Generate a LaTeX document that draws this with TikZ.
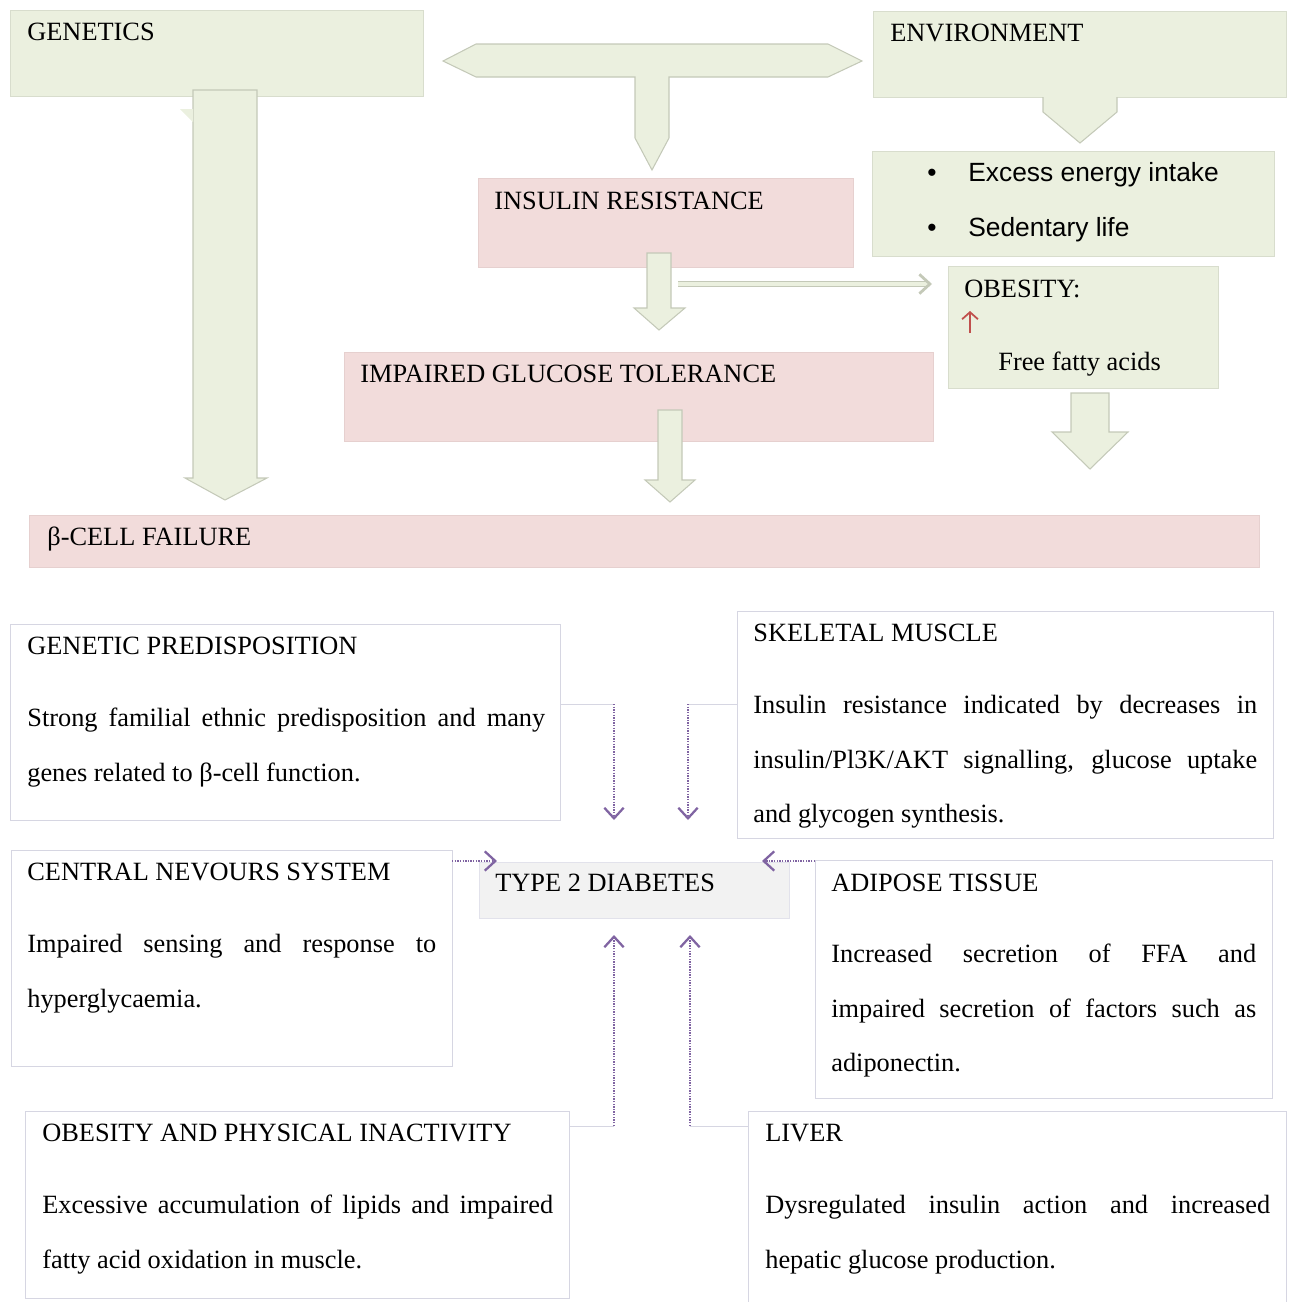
\documentclass[tikz,border=0pt]{standalone}
\usepackage{fontspec}
\setmainfont{Liberation Serif}
\newfontfamily\listfont{Liberation Sans}
\usepackage{tikz}
\usetikzlibrary{positioning,fit,arrows.meta}

\definecolor{leaf}{RGB}{235,240,223}
\definecolor{leafline}{RGB}{196,201,184}
\definecolor{rose}{RGB}{242,220,219}
\definecolor{roseline}{RGB}{230,208,207}
\definecolor{mist}{RGB}{242,242,242}
\definecolor{frame}{RGB}{214,214,226}
\definecolor{violet}{RGB}{128,100,162}
\definecolor{brick}{RGB}{192,80,77}

\begin{document}
\begin{tikzpicture}[x=0.02cm, y=-0.02cm,
	panel/.style={inner sep=0pt, outer sep=0pt, line width=0.4pt},
	greenbox/.style={panel, fill=leaf, draw=leaf!92!black},
	pinkbox/.style={panel, fill=rose, draw=roseline},
	whitebox/.style={panel, fill=white, draw=frame},
	graybox/.style={panel, fill=mist, draw=frame!70},
	blockarrow/.style={fill=leaf, draw=leafline, line width=0.6pt, line join=miter},
	title/.style={inner sep=0pt, anchor=base west, font=\fontsize{15}{17}\selectfont},
	body/.style={inner sep=0pt, anchor=base west, align=justify, font=\fontsize{15}{31.3}\selectfont},
	listitem/.style={inner sep=0pt, anchor=base west, font=\listfont\fontsize{15}{18}\selectfont},
	hollow/.style={draw=leafline, double=leaf, double distance=2pt, line width=0.6pt,
		-{Straight Barb[length=6pt, width=11pt, line width=1.6pt]}},
	elbow/.style={draw=frame, line width=0.5pt},
	dotarrow/.style={draw=violet, line width=1.4pt, dash pattern=on 0.8pt off 0.7pt, -{Straight Barb[length=6pt, width=11pt, line width=1.3pt]}}]
	\useasboundingbox (0,0) rectangle (1293,1302);

	% Upper panel: boxes
	\node[greenbox, fit={(10,10) (423,96)}]    (gen)  {};
	\node[greenbox, fit={(873,11) (1286,97)}]  (env)  {};
	\node[greenbox, fit={(872,151) (1274,256)}] (life) {};
	\node[greenbox, fit={(948,266) (1218,388)}] (obes) {};
	\node[pinkbox,  fit={(478,178) (853,267)}] (ir)   {};
	\node[pinkbox,  fit={(344,352) (933,441)}] (igt)  {};
	\node[pinkbox,  fit={(29,515) (1259,567)}] (beta) {};

	% Upper panel: block arrows
	\draw[blockarrow] (443,61) -- (476,44) -- (828,44) -- (862,61) -- (828,77) -- (669,77)
		-- (669,138) -- (652,170) -- (635,138) -- (635,77) -- (476,77) -- cycle;
	\draw[blockarrow] (193,90) -- (257,90) -- (257,478) -- (267,478) -- (225,500)
		-- (185,478) -- (193,478) -- cycle;
	\fill[leaf] (180,109) -- (193,109) -- (193,122) -- cycle;
	\draw[blockarrow] (1043,97) -- (1043,112) -- (1080,143) -- (1117,112) -- (1117,97);
	\draw[blockarrow] (647,253) -- (671,253) -- (671,308) -- (685,308) -- (659,330)
		-- (634,308) -- (647,308) -- cycle;
	\draw[blockarrow] (658,410) -- (682,410) -- (682,480) -- (695,480) -- (670,502)
		-- (645,480) -- (658,480) -- cycle;
	\draw[blockarrow] (1071,393) -- (1109,393) -- (1109,432) -- (1128,432) -- (1090,469)
		-- (1052,432) -- (1071,432) -- cycle;
	\coordinate (irOut) at (678,284);
	\coordinate (obIn)  at (932,284);
	\draw[hollow] (irOut) -- (obIn);

	% Upper panel: texts
	\node[title] (genT)  at (27,40)   {GENETICS};
	\node[title] (envT)  at (890,41)  {ENVIRONMENT};
	\node[listitem, anchor=base] at (932,181) {•};
	\node[listitem] (lifeA) at (968,181) {Excess energy intake};
	\node[listitem, anchor=base] at (932,236) {•};
	\node[listitem] (lifeB) at (968,236) {Sedentary life};
	\node[title] (irT)   at (494,209) {INSULIN RESISTANCE};
	\node[title] (obesT) at (964,297) {OBESITY:};
	\draw[brick, line width=1pt, -{Straight Barb[length=4pt, width=9pt]}] (970,333) -- (970,311);
	\node[title] (ffaT)  at (998,370) {Free fatty acids};
	\node[title] (igtT)  at (360,382) {IMPAIRED GLUCOSE TOLERANCE};
	\node[title] (betaT) at (47,545)  {β-CELL FAILURE};

	% Lower panel: boxes
	\node[whitebox, fit={(10,624) (560,820)}]   (gp)  {};
	\node[whitebox, fit={(737,611) (1273,838)}] (sm)  {};
	\node[whitebox, fit={(11,850) (452,1066)}]  (cns) {};
	\node[graybox,  fit={(479,862) (789,918)}]  (t2d) {};
	\node[whitebox, fit={(815,860) (1272,1098)}] (at) {};
	\node[whitebox, fit={(25,1111) (569,1298)}] (opi) {};
	\node[whitebox, fit={(748,1111) (1286,1320)}] (liv) {};

	% Lower panel: texts
	\node[title] at (27,654) {GENETIC PREDISPOSITION};
	\node[body, text width=10.36cm] at (27,726)
		{Strong familial ethnic predisposition and many\linebreak genes related to β-cell function.};
	\node[title] at (753,641) {SKELETAL MUSCLE};
	\node[body, text width=10.08cm] at (753,713)
		{Insulin resistance indicated by decreases in\linebreak insulin/Pl3K/AKT signalling, glucose uptake\linebreak and glycogen synthesis.};
	\node[title] at (27,880) {CENTRAL NEVOURS SYSTEM};
	\node[body, text width=8.18cm] at (27,952)
		{Impaired sensing and response to\linebreak hyperglycaemia.};
	\node[title] at (495,891) {TYPE 2 DIABETES};
	\node[title] at (831,891) {ADIPOSE TISSUE};
	\node[body, text width=8.5cm] at (831,962)
		{Increased secretion of FFA and\linebreak impaired secretion of factors such as\linebreak adiponectin.};
	\node[title] at (42,1141) {OBESITY AND PHYSICAL INACTIVITY};
	\node[body, text width=10.22cm] at (42,1213)
		{Excessive accumulation of lipids and impaired\linebreak fatty acid oxidation in muscle.};
	\node[title] at (765,1141) {LIVER};
	\node[body, text width=10.1cm] at (765,1213)
		{Dysregulated insulin action and increased\linebreak hepatic glucose production.};

	% Lower panel: connectors
	\coordinate (gpK)  at (614,704);  \coordinate (gpE)  at (614,820);
	\coordinate (smK)  at (688,704);  \coordinate (smE)  at (688,820);
	\coordinate (cnsE) at (497,861);  \coordinate (atE)  at (762,861);
	\coordinate (opiK) at (614,1126); \coordinate (opiE) at (614,935);
	\coordinate (livK) at (690,1126); \coordinate (livE) at (690,935);
	\draw[elbow] (gp.east |- gpK) -- (gpK);
	\draw[elbow] (sm.west |- smK) -- (smK);
	\draw[elbow] (opi.east |- opiK) -- (opiK);
	\draw[elbow] (liv.west |- livK) -- (livK);
	\draw[dotarrow] (gpK) -- (gpE);
	\draw[dotarrow] (smK) -- (smE);
	\draw[dotarrow] (cns.east |- cnsE) -- (cnsE);
	\draw[dotarrow] (at.west |- atE) -- (atE);
	\draw[dotarrow] (opiK) -- (opiE);
	\draw[dotarrow] (livK) -- (livE);
\end{tikzpicture}
\end{document}
